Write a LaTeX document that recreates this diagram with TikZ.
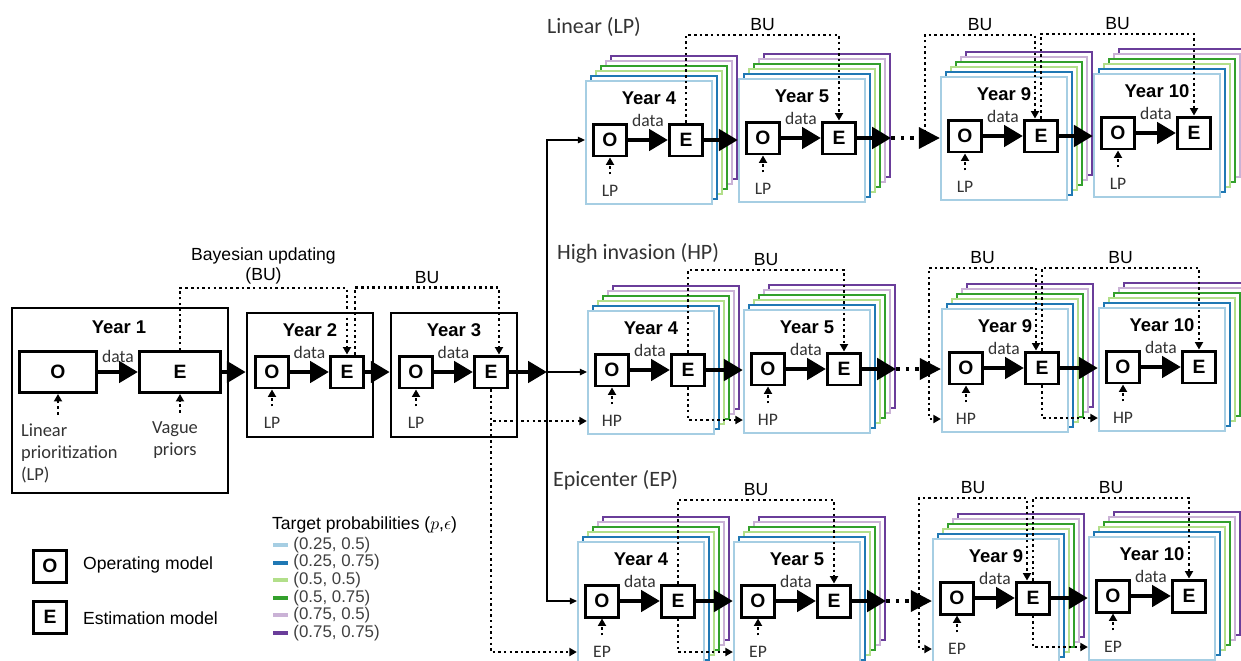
\documentclass[tikz,border=0pt]{standalone}
\usepackage{fontspec}
\setmainfont{Liberation Sans}
\newfontfamily\calfont{Carlito}
\usetikzlibrary{arrows.meta,positioning}
\definecolor{tpa}{HTML}{A6CEE3}
\definecolor{tpb}{HTML}{1F78B4}
\definecolor{tpc}{HTML}{B2DF8A}
\definecolor{tpd}{HTML}{33A02C}
\definecolor{tpe}{HTML}{CAB2D6}
\definecolor{tpf}{HTML}{6A3D9A}

\begin{document}
\begin{tikzpicture}[x=0.02cm,y=-0.02cm,
  model/.style={draw,fill=white,line width=1.7pt,inner sep=0pt,minimum width=0.66cm,minimum height=0.64cm,font=\fontsize{11}{13}\selectfont\bfseries},
  yearbox/.style={draw,line width=1.4pt,inner sep=0pt},
  stacklayer/.style={line width=1.3pt,fill=white},
  front/.style={draw=tpa,fill=white,line width=1.3pt,inner sep=0pt,minimum width=2.52cm,minimum height=2.46cm},
  yeartitle/.style={font=\fontsize{10.5}{12}\selectfont\bfseries},
  lbl/.style={font=\calfont\fontsize{10}{11.5}\selectfont,text=black!80,inner sep=1pt},
  rowtitle/.style={font=\calfont\fontsize{12.5}{14}\selectfont,text=black!80,inner sep=1pt,anchor=west},
  bulbl/.style={font=\fontsize{10}{11.5}\selectfont,inner sep=1.5pt,above},
  legtxt/.style={font=\fontsize{10}{12}\selectfont,anchor=west,inner sep=1pt},
  flow/.style={line width=2.8pt,-{Triangle[length=3.8mm,width=4.2mm]}},
  gap/.style={line width=2pt,dash pattern=on 2pt off 3.5pt,-{Triangle[length=4.2mm,width=4.2mm]}},
  bu/.style={line width=1.4pt,dash pattern=on 1.4pt off 1.8pt,-{Triangle[length=1.5mm,width=1.6mm]}},
  link/.style={line width=0.7pt,-{Triangle[length=1.4mm,width=1.3mm]}}]

\useasboundingbox (0,0) rectangle (1241,660);

% years 1-3
\node[yearbox,minimum width=4.32cm,minimum height=3.7cm] (y1) at (120,400.5) {};
\node[yearbox,minimum width=2.52cm,minimum height=2.48cm] (y2) at (310,375) {};
\node[yearbox,minimum width=2.52cm,minimum height=2.48cm] (y3) at (454,375) {};
\node[yeartitle] (y1-t) at (119,327) {Year 1};
\node[yeartitle] (y2-t) at (310,330) {Year 2};
\node[yeartitle] (y3-t) at (454,330) {Year 3};
\node[model,minimum width=1.54cm,minimum height=0.82cm] (y1-o) at (58,372) {O};
\node[model,minimum width=1.62cm,minimum height=0.82cm] (y1-e) at (180,372) {E};
\node[model] (y2-o) at (272,372) {O};
\node[model] (y2-e) at (347,372) {E};
\node[model] (y3-o) at (416,372) {O};
\node[model] (y3-e) at (491,372) {E};
\node[lbl,font=\calfont\fontsize{10.5}{12.3}\selectfont,align=left,anchor=north west] (y1-lp) at (19,422) {Linear\\prioritization\\(LP)};
\node[lbl,font=\calfont\fontsize{10.5}{12.3}\selectfont,align=center,anchor=north] (y1-vp) at (175,420) {Vague\\priors};
\node[lbl] (y2-p) at (272,423) {LP};
\node[lbl] (y3-p) at (416,423) {LP};

\draw[flow] (y1-o) -- node[lbl,above=3pt] {data} (y1-e);
\draw[flow] (y1-e) -- (y2.west |- y1-e);
\draw[flow] (y2-o) -- node[lbl,above=5pt] {data} (y2-e);
\draw[flow] (y2-e) -- (y3.west |- y2-e);
\draw[flow] (y3-o) -- node[lbl,above=5pt] {data} (y3-e);
\draw[bu,shorten <=1.5mm] (y1-o.south |- y1-lp.north) -- (y1-o.south);
\draw[bu,shorten <=1.5mm] (y1-e.south |- y1-vp.north) -- (y1-e.south);
\draw[bu,shorten <=1.8mm] (y2-p) -- (y2-o);
\draw[bu,shorten <=1.8mm] (y3-p) -- (y3-o);
\draw[bu] (y1-e.north) -- ++(0,-62) -| node[bulbl,pos=.25,align=center] {Bayesian updating\\(BU)} (y2-e.north);
\draw[bu] ([xshift=0.16cm]y2-e.north) -- ++(0,-67) -| node[bulbl,pos=.25] {BU} ([xshift=0.16cm]y3-e.north);

% scenario rows
\node[rowtitle] (a-t) at (545,27) {Linear (LP)};
\node[rowtitle] (b-t) at (555,253) {High invasion (HP)};
\node[rowtitle] (c-t) at (551,480) {Epicenter (EP)};

\foreach \s/\x/\y/\n/\p in {a4/586/81/4/LP,a5/739/79/5/LP,a9/941/77/9/LP,a10/1094/74/10/LP,
    b4/588/311/4/HP,b5/744/310/5/HP,b9/942/309/9/HP,b10/1099/308/10/HP,
    c4/578/542/4/EP,c5/734/542/5/EP,c9/933/539/9/EP,c10/1089/537/10/EP}{
  \foreach \col [count=\k] in {tpf,tpe,tpd,tpc,tpb}
    \draw[stacklayer,draw=\col] (\x+30-5*\k,\y-30+5*\k) rectangle ++(126,123);
  \node[front] (\s) at (\x+63,\y+61.5) {};
  \node[yeartitle] (\s-t) at (\x+63,\y+17) {Year \n};
  \node[model] (\s-o) at (\x+24,\y+59) {O};
  \node[model] (\s-e) at (\x+100,\y+59) {E};
  \node[lbl] (\s-p) at (\x+24,\y+110) {\p};
  \draw[flow] (\s-o) -- node[lbl,above=5pt] {data} (\s-e);
  \draw[bu,shorten <=1.8mm] (\s-p) -- (\s-o);
}

% Linear
\draw[flow] (a4-e) -- (a5.west |- a4-e);
\draw[flow] (a5-e) -- ([xshift=0.5cm]a5.east |- a5-e) coordinate (a5-out);
\draw[gap] (a5-out) -- (a9.west |- a5-out);
\draw[flow] (a9-e) -- (a10.west |- a9-e);
\draw[bu] (a4-e.north) -- ++(0,-87.5) -| node[bulbl,pos=.25] {BU} (a5-e.north);
\coordinate (a9-in) at (925,138);
\draw[bu] (a9-in) -- ++(0,-103) -| node[bulbl,pos=.25] {BU} ([xshift=-0.12cm]a9-e.north);
\draw[bu] (a9-e.north) -- ++(0,-84.5) -| node[bulbl,pos=.25] {BU} (a10-e.north);

% High invasion
\draw[flow] (b4-e) -- (b5.west |- b4-e);
\draw[flow] (b5-e) -- ([xshift=0.5cm]b5.east |- b5-e) coordinate (b5-out);
\draw[gap] (b5-out) -- (b9.west |- b5-out);
\draw[flow] (b9-e) -- (b10.west |- b9-e);
\draw[bu] (b4-e.north) -- ++(0,-82.5) -| node[bulbl,pos=.25] {BU} (b5-e.north);
\draw[bu] (b4-e.south) |- (b5.west |- b5-p);
\coordinate (b9-in) at (929,369);
\draw[bu] (b9-in) -- ++(0,-101) -| node[bulbl,pos=.25] {BU} ([xshift=-0.12cm]b9-e.north);
\draw[bu] (b9-in) |- (b9.west |- b9-p);
\draw[bu] (b9-e.north) -- ++(0,-82.5) -| node[bulbl,pos=.25] {BU} (b10-e.north);
\draw[bu] (b9-e.south) |- (b10.west |- b10-p);

% Epicenter
\draw[flow] (c4-e) -- (c5.west |- c4-e);
\draw[flow] (c5-e) -- ([xshift=0.5cm]c5.east |- c5-e) coordinate (c5-out);
\draw[gap] (c5-out) -- (c9.west |- c5-out);
\draw[flow] (c9-e) -- (c10.west |- c9-e);
\draw[bu] (c4-e.north) -- ++(0,-83.5) -| node[bulbl,pos=.25] {BU} (c5-e.north);
\draw[bu] (c4-e.south) |- (c5.west |- c5-p);
\coordinate (c9-in) at (919,601);
\draw[bu] (c9-in) -- ++(0,-103) -| node[bulbl,pos=.25] {BU} ([xshift=-0.12cm]c9-e.north);
\draw[bu] (c9-in) |- (c9.west |- c9-p);
\draw[bu] (c9-e.north) -- ++(0,-82.5) -| node[bulbl,pos=.25] {BU} (c10-e.north);
\draw[bu] (c9-e.south) |- (c10.west |- c10-p);

% split after year 3
\coordinate (split) at (547,372);
\draw[flow] (y3-e) -- (split);
\draw[link] (split) |- (a4.west |- a4-o);
\draw[link] (split) -- (b4.west |- split);
\draw[link] (split) |- (c4.west |- c4-o);
\draw[bu] (y3-e.south) |- (b4.west |- b4-p);
\draw[bu] (y3-e.south) |- (c4.west |- c4-p);

% legend
\node[model] (leg-o) at (50,566) {O};
\node[legtxt] (leg-ot) at (81,565) {Operating model};
\node[model] (leg-e) at (50,617) {E};
\node[legtxt] (leg-et) at (81,618) {Estimation model};
\node[legtxt] (leg-t) at (270,525) {Target probabilities ($p$,$\epsilon$)};
\foreach \col/\lab [count=\i] in {tpa/{(0.25, 0.5)},tpb/{(0.25, 0.75)},tpc/{(0.5, 0.5)},tpd/{(0.5, 0.75)},tpe/{(0.75, 0.5)},tpf/{(0.75, 0.75)}}
  \draw[line width=2.2pt,draw=\col] (273,527.4+17.6*\i) -- ++(15,0) node[legtxt,xshift=1pt,font=\fontsize{9.6}{11}\selectfont,text=black!75] (leg-\i) {\lab};
\end{tikzpicture}
\end{document}
